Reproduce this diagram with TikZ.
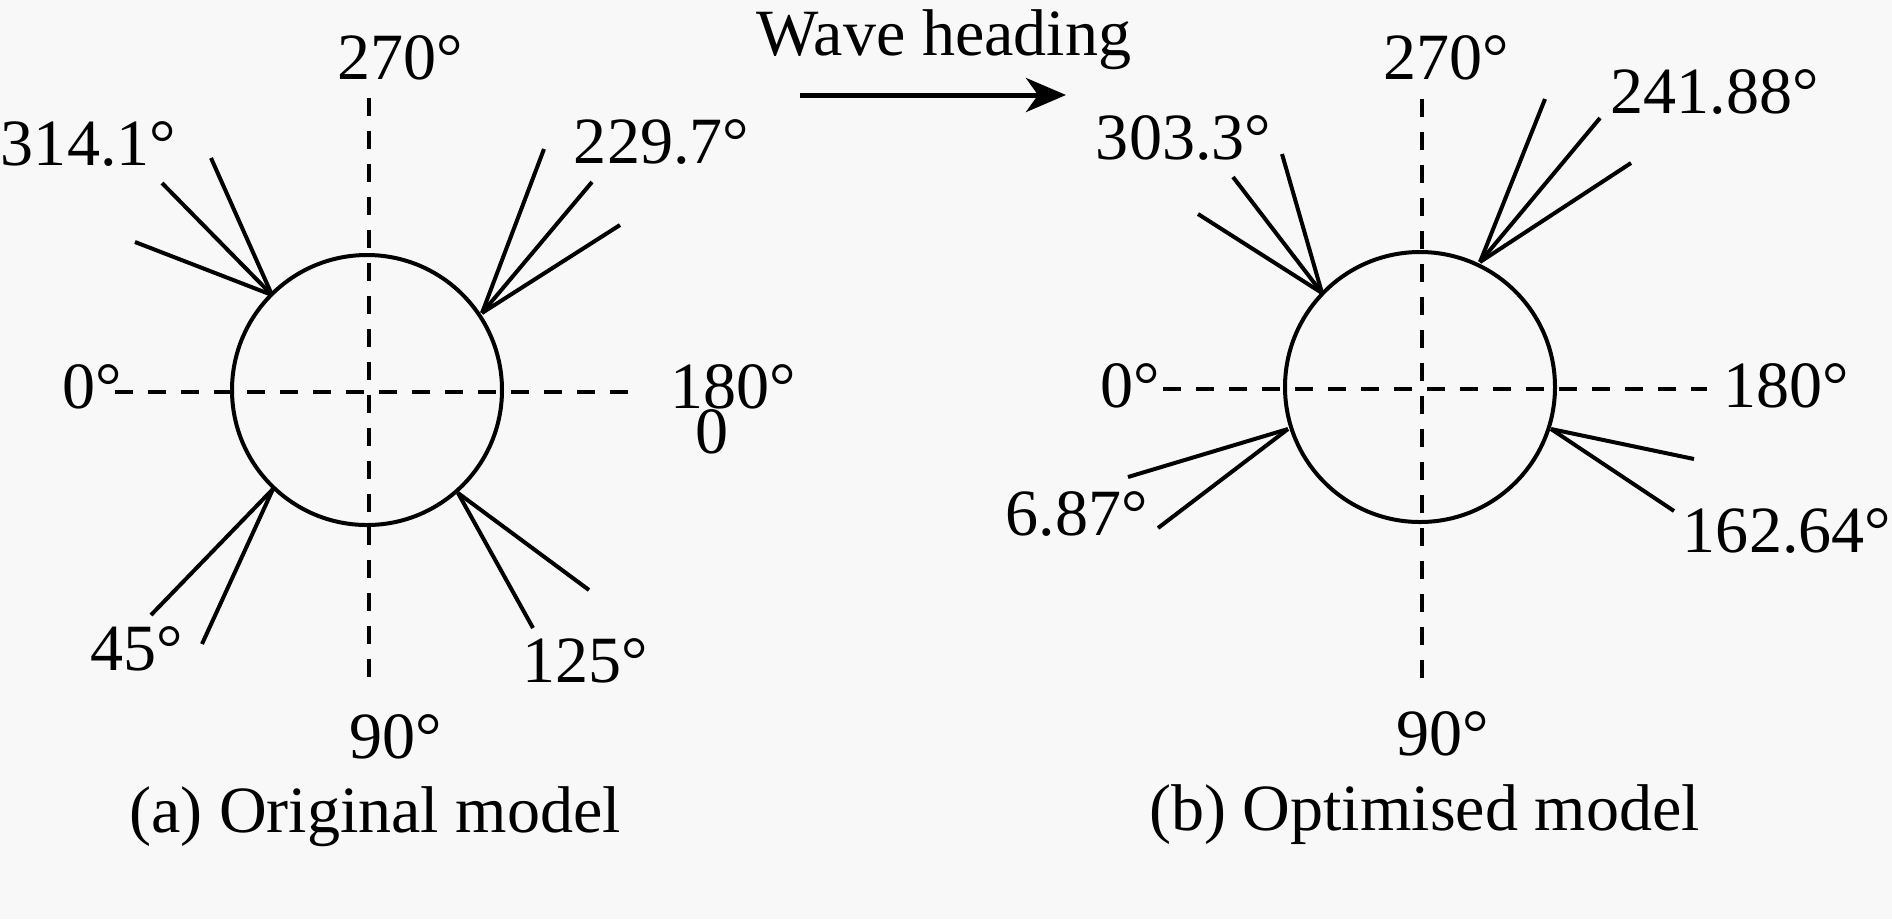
\documentclass[tikz,border=0pt]{standalone}
\usepackage{fontspec}
\setmainfont{Liberation Serif}
\usetikzlibrary{arrows.meta}
\definecolor{bgc}{RGB}{248,248,248}
\begin{document}
\begin{tikzpicture}[x=0.1mm,y=-0.1mm,
  lbl/.style={font=\fontsize{18.8}{22}\selectfont, inner sep=0pt, anchor=base},
  axisline/.style={line width=0.42mm, dash pattern=on 1.75mm off 1.55mm},
  spoke/.style={line width=0.4mm},
  hull/.style={circle, draw, line width=0.4mm, minimum size=27mm, inner sep=0pt, outer sep=0pt},
  headarrow/.style={line width=0.5mm, -{Stealth[length=4mm, width=3.4mm, inset=1.2mm]}}]
\fill[bgc] (0,0) rectangle (1892,919);
\useasboundingbox (0,0) rectangle (1892,919);

% ---------- (a) original model ----------
\coordinate (aT) at (369,98);
\coordinate (aB) at (369,687);
\coordinate (aL) at (115,392);
\coordinate (aR) at (633,392);
\draw[axisline] (aT) -- (aB);
\draw[axisline] (aL) -- (aR);
\node[hull] (A) at (367,390) {};

\coordinate (pa1) at (272,295);
\coordinate (pa2) at (482,313);
\coordinate (pa3) at (273,489);
\coordinate (pa4) at (458,493);
\coordinate (ea11) at (211,158);
\coordinate (ea12) at (162,183);
\coordinate (ea13) at (135,242);
\coordinate (ea21) at (544,149);
\coordinate (ea22) at (592,182);
\coordinate (ea23) at (620,225);
\coordinate (ea31) at (151,615);
\coordinate (ea32) at (202,644);
\coordinate (ea41) at (533,628);
\coordinate (ea42) at (589,590);
\foreach \e in {ea11,ea12,ea13} \draw[spoke] (pa1) -- (\e);
\foreach \e in {ea21,ea22,ea23} \draw[spoke] (pa2) -- (\e);
\foreach \e in {ea31,ea32} \draw[spoke] (pa3) -- (\e);
\foreach \e in {ea41,ea42} \draw[spoke] (pa4) -- (\e);

\node[lbl] (a270) at (400.5,79) {270°};
\node[lbl] (a314) at (88.5,165) {314.1°};
\node[lbl] (a229) at (661.5,163) {229.7°};
\node[lbl] (a0) at (92.5,408) {0°};
\node[lbl] (a180) at (733.5,408) {180°};
\node[lbl] (azero) at (712.5,453) {0};
\node[lbl] (a45) at (137,670) {45°};
\node[lbl] (a125) at (585.5,682) {125°};
\node[lbl] (a90) at (396,758) {90°};
\node[lbl] (acap) at (375,832) {(a) Original model};

% ---------- wave heading ----------
\node[lbl] (wave) at (944,55) {Wave heading};
\coordinate (w1) at (800,95);
\coordinate (w2) at (1066,95);
\draw[headarrow] (w1) -- (w2);

% ---------- (b) optimised model ----------
\coordinate (bT) at (1422,99);
\coordinate (bB) at (1422,687);
\coordinate (bL) at (1163,389);
\coordinate (bR) at (1707,389);
\draw[axisline] (bT) -- (bB);
\draw[axisline] (bL) -- (bR);
\node[hull] (B) at (1420,387) {};

\coordinate (pb1) at (1322,293);
\coordinate (pb2) at (1480,262);
\coordinate (pb3) at (1288,429);
\coordinate (pb4) at (1551,429);
\coordinate (eb11) at (1282,154);
\coordinate (eb12) at (1233,177);
\coordinate (eb13) at (1198,214);
\coordinate (eb21) at (1545,99);
\coordinate (eb22) at (1600,118);
\coordinate (eb23) at (1631,163);
\coordinate (eb31) at (1128,477);
\coordinate (eb32) at (1158,528);
\coordinate (eb41) at (1694,459);
\coordinate (eb42) at (1674,511);
\foreach \e in {eb11,eb12,eb13} \draw[spoke] (pb1) -- (\e);
\foreach \e in {eb21,eb22,eb23} \draw[spoke] (pb2) -- (\e);
\foreach \e in {eb31,eb32} \draw[spoke] (pb3) -- (\e);
\foreach \e in {eb41,eb42} \draw[spoke] (pb4) -- (\e);

\node[lbl] (b270) at (1446.5,79) {270°};
\node[lbl] (b303) at (1183.5,159) {303.3°};
\node[lbl] (b241) at (1714.5,113) {241.88°};
\node[lbl] (b0) at (1130.5,407) {0°};
\node[lbl] (b180) at (1786,407) {180°};
\node[lbl] (b687) at (1076.5,535) {6.87°};
\node[lbl] (b162) at (1787,552) {162.64°};
\node[lbl] (b90) at (1442.5,755) {90°};
\node[lbl] (bcap) at (1424.5,830) {(b) Optimised model};
\end{tikzpicture}
\end{document}
